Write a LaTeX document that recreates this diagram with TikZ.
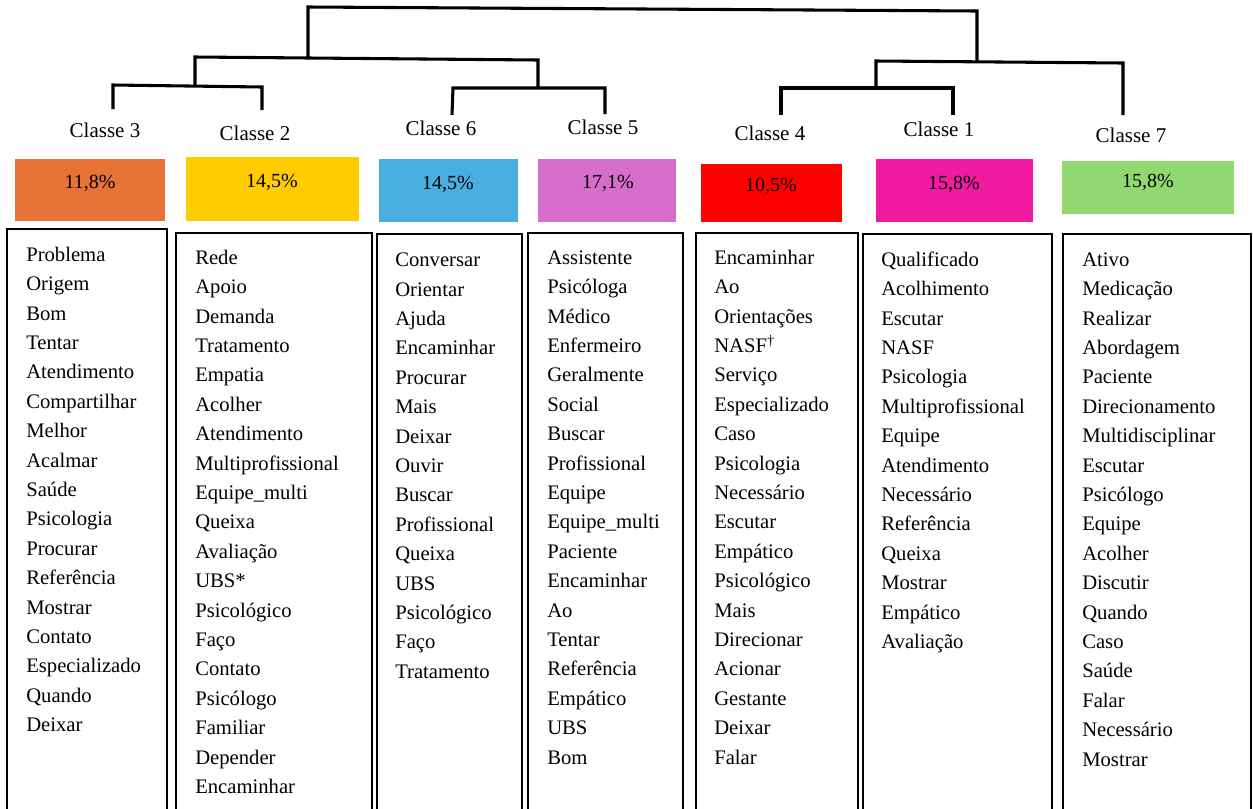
\documentclass[tikz,border=0pt]{standalone}
\usepackage{fontspec}
\setmainfont{Liberation Serif}
\usetikzlibrary{fit}
\definecolor{corange}{RGB}{233,115,55}
\definecolor{cyellow}{RGB}{255,204,0}
\definecolor{cblue}{RGB}{72,175,224}
\definecolor{cpurple}{RGB}{214,111,203}
\definecolor{cred}{RGB}{255,0,0}
\definecolor{cmagenta}{RGB}{240,27,160}
\definecolor{cgreen}{RGB}{146,216,112}
\newcommand{\topstrut}{\rule{0pt}{12pt}}
\begin{document}
\begin{tikzpicture}[x=0.75pt,y=-0.75pt,
  dline/.style={line width=2.3pt,line join=miter},
  wbox/.style={line width=1.5pt,line join=miter},
  cls/.style={anchor=base,inner sep=0,font=\fontsize{15.75}{18}\selectfont},
  pct/.style={anchor=base,inner sep=0,font=\fontsize{15}{18}\selectfont},
  words/.style={anchor=north west,align=left,inner sep=0,font=\fontsize{15.5}{22.05}\selectfont},
  cbox/.style={inner sep=0,draw=none}]
\useasboundingbox (0,0) rectangle (1253,808);

% ---------- dendrogram ----------
\coordinate (r1) at (308,7);
\coordinate (r2) at (977,11);
\coordinate (La) at (195,57);
\coordinate (Lm) at (308,58);
\coordinate (Lb) at (538,60);
\coordinate (A3) at (113,85);
\coordinate (Am) at (195,86);
\coordinate (A2) at (262,87);
\coordinate (t3) at (113,109);
\coordinate (t2) at (262,110);
\coordinate (B6) at (453,88);
\coordinate (Bm) at (538,88);
\coordinate (B5) at (605,88);
\coordinate (t6) at (452,115);
\coordinate (t5) at (605,114);
\coordinate (Ra) at (876,61);
\coordinate (Rm) at (977,62);
\coordinate (Rb) at (1123,63);
\coordinate (C4) at (781,88);
\coordinate (Cm) at (876,88);
\coordinate (C1) at (953,88);
\coordinate (t4) at (781,115);
\coordinate (t1) at (953,115);
\coordinate (t7) at (1123,115);

\draw[dline] (Lm) -- (r1) -- (r2) -- (Rm);
\draw[dline] (Am) -- (La) -- (Lb) -- (Bm);
\draw[dline] (t3) -- (A3) -- (A2) -- (t2);
\draw[dline] (t6) -- (B6) -- (B5) -- (t5);
\draw[dline] (Cm) -- (Ra) -- (Rb) -- (t7);
\draw[dline] (t4) -- (C4) -- (C1) -- (t1);

% ---------- class labels ----------
\node[cls] (c3) at (105,137) {Classe 3};
\node[cls] (c2) at (255,140) {Classe 2};
\node[cls] (c6) at (441,135) {Classe 6};
\node[cls] (c5) at (603,134) {Classe 5};
\node[cls] (c4) at (770,140) {Classe 4};
\node[cls] (c1) at (939,136) {Classe 1};
\node[cls] (c7) at (1131,142) {Classe 7};

% ---------- coloured percentage boxes ----------
\node[cbox,fill=corange,fit={(15,159) (165,221)}] (p3) {};
\node[cbox,fill=cyellow,fit={(186,157) (359,221)}] (p2) {};
\node[cbox,fill=cblue,fit={(379,159) (518,222)}] (p6) {};
\node[cbox,fill=cpurple,fit={(538,159) (676,222)}] (p5) {};
\node[cbox,fill=cred,fit={(701,164) (842,222)}] (p4) {};
\node[cbox,fill=cmagenta,fit={(876,159) (1033,222)}] (p1) {};
\node[cbox,fill=cgreen,fit={(1062,161) (1234,214)}] (p7) {};

\node[pct] (q3) at (90,188) {11,8\%};
\node[pct] (q2) at (272,187) {14,5\%};
\node[pct] (q6) at (448,189) {14,5\%};
\node[pct] (q5) at (608,188) {17,1\%};
\node[pct] (q4) at (771,191) {10,5\%};
\node[pct] (q1) at (954,189) {15,8\%};
\node[pct] (q7) at (1148,187) {15,8\%};

% ---------- word boxes (open at the bottom) ----------
\draw[wbox] (7,815) -- (7,229) -- (167,229) -- (167,815);
\draw[wbox] (176,815) -- (176,233) -- (372,233) -- (372,815);
\draw[wbox] (377,815) -- (377,234) -- (522,234) -- (522,815);
\draw[wbox] (528,815) -- (528,233) -- (683,233) -- (683,815);
\draw[wbox] (696,815) -- (696,233) -- (858,233) -- (858,815);
\draw[wbox] (863,815) -- (863,234) -- (1052,234) -- (1052,815);
\draw[wbox] (1063,815) -- (1063,234) -- (1251,234) -- (1251,815);

% ---------- word lists (first baseline = y + 16) ----------
\node[words] (w3) at (26,245) {\topstrut Problema\\Origem\\Bom\\Tentar\\Atendimento\\Compartilhar\\Melhor\\Acalmar\\Saúde\\Psicologia\\Procurar\\Referência\\Mostrar\\Contato\\Especializado\\Quando\\Deixar};
\node[words] (w2) at (195,248) {\topstrut Rede\\Apoio\\Demanda\\Tratamento\\Empatia\\Acolher\\Atendimento\\Multiprofissional\\Equipe\_multi\\Queixa\\Avaliação\\UBS*\\Psicológico\\Faço\\Contato\\Psicólogo\\Familiar\\Depender\\Encaminhar};
\node[words] (w6) at (395,250.5) {\topstrut Conversar\\Orientar\\Ajuda\\Encaminhar\\Procurar\\Mais\\Deixar\\Ouvir\\Buscar\\Profissional\\Queixa\\UBS\\Psicológico\\Faço\\Tratamento};
\node[words] (w5) at (547,248) {\topstrut Assistente\\Psicóloga\\Médico\\Enfermeiro\\Geralmente\\Social\\Buscar\\Profissional\\Equipe\\Equipe\_multi\\Paciente\\Encaminhar\\Ao\\Tentar\\Referência\\Empático\\UBS\\Bom};
\node[words] (w4) at (714,248) {\topstrut Encaminhar\\Ao\\Orientações\\NASF\textsuperscript{†}\\Serviço\\Especializado\\Caso\\Psicologia\\Necessário\\Escutar\\Empático\\Psicológico\\Mais\\Direcionar\\Acionar\\Gestante\\Deixar\\Falar};
\node[words] (w1) at (881,250) {\topstrut Qualificado\\Acolhimento\\Escutar\\NASF\\Psicologia\\Multiprofissional\\Equipe\\Atendimento\\Necessário\\Referência\\Queixa\\Mostrar\\Empático\\Avaliação};
\node[words] (w7) at (1082,250) {\topstrut Ativo\\Medicação\\Realizar\\Abordagem\\Paciente\\Direcionamento\\Multidisciplinar\\Escutar\\Psicólogo\\Equipe\\Acolher\\Discutir\\Quando\\Caso\\Saúde\\Falar\\Necessário\\Mostrar};
\end{tikzpicture}
\end{document}
